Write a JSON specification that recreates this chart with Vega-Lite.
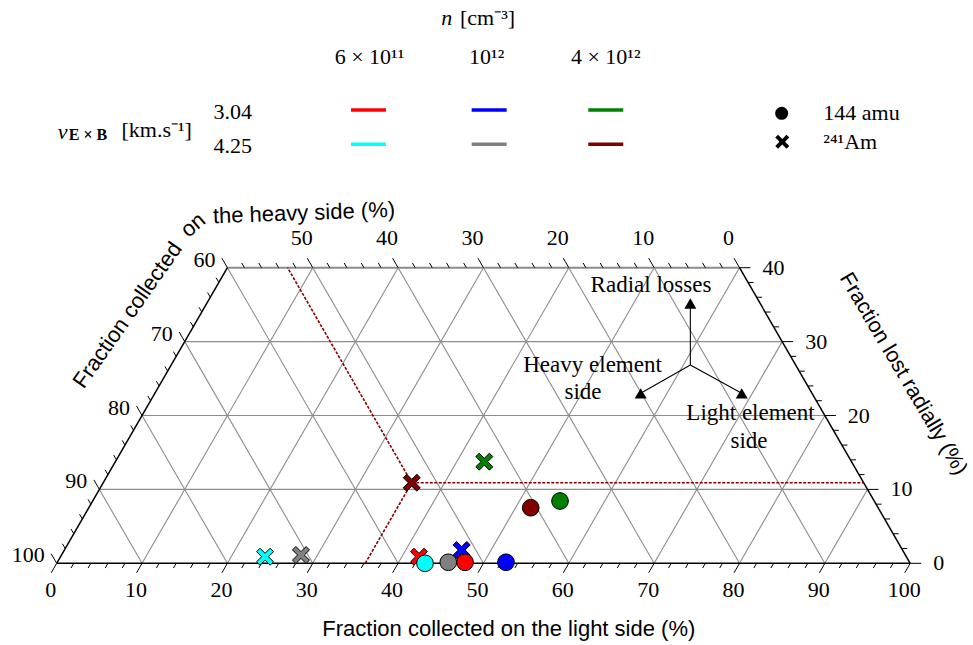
{
 "$schema": "https://vega.github.io/schema/vega-lite/v6.json",
 "width": 973, "height": 645,
 "autosize": {"type": "none"},
 "padding": 0,
 "background": "white",
 "config": {"view": {"stroke": null}},
 "encoding": {
  "x": {"field": "x", "type": "quantitative", "scale": {"domain": [-6.643, 107.357], "nice": false, "zero": false}, "axis": null},
  "y": {"field": "y", "type": "quantitative", "scale": {"domain": [-11.055, 76.225], "nice": false, "zero": false}, "axis": null}
 },
 "datasets": {
  "grid": [
   {"x":5,"y":10,"x2":95,"y2":10},{"x":10,"y":20,"x2":90,"y2":20},{"x":15,"y":30,"x2":85,"y2":30},
   {"x":10,"y":0,"x2":30,"y2":40},{"x":20,"y":0,"x2":40,"y2":40},{"x":30,"y":0,"x2":50,"y2":40},{"x":40,"y":0,"x2":60,"y2":40},{"x":50,"y":0,"x2":70,"y2":40},{"x":60,"y":0,"x2":80,"y2":40},{"x":70,"y":0,"x2":85,"y2":30},{"x":80,"y":0,"x2":90,"y2":20},{"x":90,"y":0,"x2":95,"y2":10},
   {"x":10,"y":0,"x2":5,"y2":10},{"x":20,"y":0,"x2":10,"y2":20},{"x":30,"y":0,"x2":15,"y2":30},{"x":40,"y":0,"x2":20,"y2":40},{"x":50,"y":0,"x2":30,"y2":40},{"x":60,"y":0,"x2":40,"y2":40},{"x":70,"y":0,"x2":50,"y2":40},{"x":80,"y":0,"x2":60,"y2":40},{"x":90,"y":0,"x2":70,"y2":40}
  ],
  "frame": [
   {"edge":"top","x":20,"y":40,"x2":80,"y2":40},
   {"edge":"bottom","x":0,"y":0,"x2":100,"y2":0},
   {"edge":"left","x":0,"y":0,"x2":20,"y2":40},
   {"edge":"right","x":100,"y":0,"x2":80,"y2":40}
  ],
  "guides": [
   {"x":41.6,"y":10.9,"x2":36.15,"y2":0},
   {"x":41.6,"y":10.9,"x2":27.05,"y2":40},
   {"x":41.6,"y":10.9,"x2":94.55,"y2":10.9}
  ],
  "ticks": [
   {"e":"b","x":0,"y":0,"m":1},{"e":"b","x":2,"y":0,"m":0},{"e":"b","x":4,"y":0,"m":0},{"e":"b","x":6,"y":0,"m":0},{"e":"b","x":8,"y":0,"m":0},
   {"e":"b","x":10,"y":0,"m":1},{"e":"b","x":12,"y":0,"m":0},{"e":"b","x":14,"y":0,"m":0},{"e":"b","x":16,"y":0,"m":0},{"e":"b","x":18,"y":0,"m":0},
   {"e":"b","x":20,"y":0,"m":1},{"e":"b","x":22,"y":0,"m":0},{"e":"b","x":24,"y":0,"m":0},{"e":"b","x":26,"y":0,"m":0},{"e":"b","x":28,"y":0,"m":0},
   {"e":"b","x":30,"y":0,"m":1},{"e":"b","x":32,"y":0,"m":0},{"e":"b","x":34,"y":0,"m":0},{"e":"b","x":36,"y":0,"m":0},{"e":"b","x":38,"y":0,"m":0},
   {"e":"b","x":40,"y":0,"m":1},{"e":"b","x":42,"y":0,"m":0},{"e":"b","x":44,"y":0,"m":0},{"e":"b","x":46,"y":0,"m":0},{"e":"b","x":48,"y":0,"m":0},
   {"e":"b","x":50,"y":0,"m":1},{"e":"b","x":52,"y":0,"m":0},{"e":"b","x":54,"y":0,"m":0},{"e":"b","x":56,"y":0,"m":0},{"e":"b","x":58,"y":0,"m":0},
   {"e":"b","x":60,"y":0,"m":1},{"e":"b","x":62,"y":0,"m":0},{"e":"b","x":64,"y":0,"m":0},{"e":"b","x":66,"y":0,"m":0},{"e":"b","x":68,"y":0,"m":0},
   {"e":"b","x":70,"y":0,"m":1},{"e":"b","x":72,"y":0,"m":0},{"e":"b","x":74,"y":0,"m":0},{"e":"b","x":76,"y":0,"m":0},{"e":"b","x":78,"y":0,"m":0},
   {"e":"b","x":80,"y":0,"m":1},{"e":"b","x":82,"y":0,"m":0},{"e":"b","x":84,"y":0,"m":0},{"e":"b","x":86,"y":0,"m":0},{"e":"b","x":88,"y":0,"m":0},
   {"e":"b","x":90,"y":0,"m":1},{"e":"b","x":92,"y":0,"m":0},{"e":"b","x":94,"y":0,"m":0},{"e":"b","x":96,"y":0,"m":0},{"e":"b","x":98,"y":0,"m":0},
   {"e":"b","x":100,"y":0,"m":1},
   {"e":"l","x":0,"y":0,"m":1},{"e":"l","x":1,"y":2,"m":0},{"e":"l","x":2,"y":4,"m":0},{"e":"l","x":3,"y":6,"m":0},{"e":"l","x":4,"y":8,"m":0},
   {"e":"l","x":5,"y":10,"m":1},{"e":"l","x":6,"y":12,"m":0},{"e":"l","x":7,"y":14,"m":0},{"e":"l","x":8,"y":16,"m":0},{"e":"l","x":9,"y":18,"m":0},
   {"e":"l","x":10,"y":20,"m":1},{"e":"l","x":11,"y":22,"m":0},{"e":"l","x":12,"y":24,"m":0},{"e":"l","x":13,"y":26,"m":0},{"e":"l","x":14,"y":28,"m":0},
   {"e":"l","x":15,"y":30,"m":1},{"e":"l","x":16,"y":32,"m":0},{"e":"l","x":17,"y":34,"m":0},{"e":"l","x":18,"y":36,"m":0},{"e":"l","x":19,"y":38,"m":0},
   {"e":"l","x":20,"y":40,"m":1},
   {"e":"t","x":22,"y":40,"m":0},{"e":"t","x":24,"y":40,"m":0},{"e":"t","x":26,"y":40,"m":0},{"e":"t","x":28,"y":40,"m":0},
   {"e":"t","x":30,"y":40,"m":1},{"e":"t","x":32,"y":40,"m":0},{"e":"t","x":34,"y":40,"m":0},{"e":"t","x":36,"y":40,"m":0},{"e":"t","x":38,"y":40,"m":0},
   {"e":"t","x":40,"y":40,"m":1},{"e":"t","x":42,"y":40,"m":0},{"e":"t","x":44,"y":40,"m":0},{"e":"t","x":46,"y":40,"m":0},{"e":"t","x":48,"y":40,"m":0},
   {"e":"t","x":50,"y":40,"m":1},{"e":"t","x":52,"y":40,"m":0},{"e":"t","x":54,"y":40,"m":0},{"e":"t","x":56,"y":40,"m":0},{"e":"t","x":58,"y":40,"m":0},
   {"e":"t","x":60,"y":40,"m":1},{"e":"t","x":62,"y":40,"m":0},{"e":"t","x":64,"y":40,"m":0},{"e":"t","x":66,"y":40,"m":0},{"e":"t","x":68,"y":40,"m":0},
   {"e":"t","x":70,"y":40,"m":1},{"e":"t","x":72,"y":40,"m":0},{"e":"t","x":74,"y":40,"m":0},{"e":"t","x":76,"y":40,"m":0},{"e":"t","x":78,"y":40,"m":0},
   {"e":"t","x":80,"y":40,"m":1},
   {"e":"r","x":100,"y":0,"m":1},{"e":"r","x":99,"y":2,"m":0},{"e":"r","x":98,"y":4,"m":0},{"e":"r","x":97,"y":6,"m":0},{"e":"r","x":96,"y":8,"m":0},
   {"e":"r","x":95,"y":10,"m":1},{"e":"r","x":94,"y":12,"m":0},{"e":"r","x":93,"y":14,"m":0},{"e":"r","x":92,"y":16,"m":0},{"e":"r","x":91,"y":18,"m":0},
   {"e":"r","x":90,"y":20,"m":1},{"e":"r","x":89,"y":22,"m":0},{"e":"r","x":88,"y":24,"m":0},{"e":"r","x":87,"y":26,"m":0},{"e":"r","x":86,"y":28,"m":0},
   {"e":"r","x":85,"y":30,"m":1},{"e":"r","x":84,"y":32,"m":0},{"e":"r","x":83,"y":34,"m":0},{"e":"r","x":82,"y":36,"m":0},{"e":"r","x":81,"y":38,"m":0},
   {"e":"r","x":80,"y":40,"m":1}
  ],
  "points": [
   {"series":"n=6×10¹¹, v=3.04","element":"241Am","x":42.45,"y":0.89},
   {"series":"n=10¹², v=3.04","element":"241Am","x":47.45,"y":1.8},
   {"series":"n=4×10¹², v=3.04","element":"241Am","x":50.1,"y":13.75},
   {"series":"n=6×10¹¹, v=4.25","element":"241Am","x":24.41,"y":0.89},
   {"series":"n=10¹², v=4.25","element":"241Am","x":28.62,"y":1.12},
   {"series":"n=4×10¹², v=4.25","element":"241Am","x":41.6,"y":10.9},
   {"series":"n=6×10¹¹, v=3.04","element":"144 amu","x":47.84,"y":0.14},
   {"series":"n=10¹², v=3.04","element":"144 amu","x":52.64,"y":0.14},
   {"series":"n=4×10¹², v=3.04","element":"144 amu","x":58.97,"y":8.43},
   {"series":"n=6×10¹¹, v=4.25","element":"144 amu","x":43.15,"y":0.0},
   {"series":"n=10¹², v=4.25","element":"144 amu","x":45.88,"y":0.14},
   {"series":"n=4×10¹², v=4.25","element":"144 amu","x":55.54,"y":7.52}
  ],
  "arrows": [
   {"x":74.24,"y":26.83,"x2":74.24,"y2":35.16},
   {"x":74.24,"y":26.83,"x2":68.42,"y2":23.0},
   {"x":74.24,"y":26.83,"x2":80.26,"y2":23.0}
  ],
  "legend_lines": [
   {"series":"n=6×10¹¹, v=3.04","x":34.48,"x2":38.58,"y":61.35},
   {"series":"n=10¹², v=3.04","x":48.62,"x2":52.72,"y":61.35},
   {"series":"n=4×10¹², v=3.04","x":62.28,"x2":66.38,"y":61.35},
   {"series":"n=6×10¹¹, v=4.25","x":34.48,"x2":38.58,"y":56.7},
   {"series":"n=10¹², v=4.25","x":48.62,"x2":52.72,"y":56.7},
   {"series":"n=4×10¹², v=4.25","x":62.28,"x2":66.38,"y":56.7}
  ],
  "legend_marks": [
   {"element":"144 amu","x":84.94,"y":60.89},
   {"element":"241Am","x":85.01,"y":57.05}
  ],
  "ticklabels": [
   {"g":"b","text":"0","x":0,"y":0},{"g":"b","text":"10","x":10,"y":0},{"g":"b","text":"20","x":20,"y":0},{"g":"b","text":"30","x":30,"y":0},{"g":"b","text":"40","x":40,"y":0},{"g":"b","text":"50","x":50,"y":0},{"g":"b","text":"60","x":60,"y":0},{"g":"b","text":"70","x":70,"y":0},{"g":"b","text":"80","x":80,"y":0},{"g":"b","text":"90","x":90,"y":0},{"g":"b","text":"100","x":100,"y":0},
   {"g":"l","text":"100","x":0,"y":0},{"g":"l","text":"90","x":5,"y":10},{"g":"l","text":"80","x":10,"y":20},{"g":"l","text":"70","x":15,"y":30},{"g":"l","text":"60","x":20,"y":40},
   {"g":"t","text":"50","x":30,"y":40},{"g":"t","text":"40","x":40,"y":40},{"g":"t","text":"30","x":50,"y":40},{"g":"t","text":"20","x":60,"y":40},{"g":"t","text":"10","x":70,"y":40},{"g":"t","text":"0","x":80,"y":40},
   {"g":"r","text":"0","x":100,"y":0},{"g":"r","text":"10","x":95,"y":10},{"g":"r","text":"20","x":90,"y":20},{"g":"r","text":"30","x":85,"y":30},{"g":"r","text":"40","x":80,"y":40}
  ],
  "titles": [
   {"id":"bottom","text":"Fraction collected on the light side (%)","x":52.97,"y":-8.89},
   {"id":"right","text":"Fraction lost radially (%)","x":99.15,"y":25.6},
   {"id":"left1","text":"Fraction collected","x":8.3,"y":33.6},
   {"id":"left2","text":"on","x":15.97,"y":45.78},
   {"id":"left3","text":"the heavy side (%)","x":28.97,"y":47.4}
  ],
  "notes": [
   {"text":"Radial losses","x":69.63,"y":37.68},
   {"text":"Heavy element","x":62.78,"y":26.83},
   {"text":"side","x":61.66,"y":23.18},
   {"text":"Light element","x":81.29,"y":20.3},
   {"text":"side","x":81.11,"y":16.59}
  ],
  "legend_text": [
   {"g":"i","text":"n","x":45.69,"y":73.78},
   {"g":"l","text":"[cm⁻³]","x":47.25,"y":73.78},
   {"g":"c","text":"6 × 10¹¹","x":36.65,"y":68.55},
   {"g":"c","text":"10¹²","x":50.38,"y":68.55},
   {"g":"c","text":"4 × 10¹²","x":64.32,"y":68.55},
   {"g":"c","text":"3.04","x":20.63,"y":61.11},
   {"g":"c","text":"4.25","x":20.63,"y":56.51},
   {"g":"i","text":"v","x":0.69,"y":58.4},
   {"g":"b","text":"E × B","x":3.67,"y":57.95},
   {"g":"c","text":"[km.s⁻¹]","x":11.72,"y":58.63},
   {"g":"l","text":"144 amu","x":89.82,"y":60.93},
   {"g":"l","text":"²⁴¹Am","x":89.82,"y":57.05}
  ]
 },
 "layer": [
  {"data":{"name":"grid"},"mark":{"type":"rule","color":"#8c8c8c","strokeWidth":1.1},"encoding":{"x2":{"field":"x2"},"y2":{"field":"y2"}}},
  {"data":{"name":"frame"},"transform":[{"filter":"datum.edge == 'top'"}],"mark":{"type":"rule","color":"#8c8c8c","strokeWidth":2},"encoding":{"x2":{"field":"x2"},"y2":{"field":"y2"}}},
  {"data":{"name":"frame"},"transform":[{"filter":"datum.edge != 'top'"}],"mark":{"type":"rule","color":"black","strokeWidth":1.5},"encoding":{"x2":{"field":"x2"},"y2":{"field":"y2"}}},
  {"data":{"name":"guides"},"mark":{"type":"rule","color":"#8b0000","strokeWidth":1.6,"strokeDash":[3,1.5]},"encoding":{"x2":{"field":"x2"},"y2":{"field":"y2"}}},
  {"data":{"name":"ticks"},"mark":{"type":"point","filled":false,"stroke":"black","strokeWidth":1,"opacity":1},
   "encoding":{
    "shape":{"field":"e","type":"nominal","scale":{"domain":["b","l","t","r"],"range":["M0,0L-0.5,0.866","M0,0L-0.5,-0.866","M0,0L-0.5,-0.866","M0,0L1,0"]},"legend":null},
    "size":{"field":"m","type":"quantitative","scale":{"domain":[0,1],"range":[121,484],"zero":false},"legend":null}
   }},
  {"data":{"name":"arrows"},"mark":{"type":"rule","color":"black","strokeWidth":1.1},"encoding":{"x2":{"field":"x2"},"y2":{"field":"y2"}}},
  {"data":{"name":"arrows"},"mark":{"type":"point","shape":"triangle-up","size":144,"filled":true,"color":"black","opacity":1},
   "encoding":{"x":{"field":"x2","type":"quantitative"},"y":{"field":"y2","type":"quantitative"}}},
  {"data":{"name":"points"},"transform":[{"filter":"datum.element == '241Am'"}],
   "mark":{"type":"point","shape":"M-1,-0.6L-0.6,-1L0,-0.4L0.6,-1L1,-0.6L0.4,0L1,0.6L0.6,1L0,0.4L-0.6,1L-1,0.6L-0.4,0Z","size":289,"filled":true,"stroke":"black","strokeWidth":1,"opacity":1},
   "encoding":{"color":{"field":"series","type":"nominal","scale":{"domain":["n=6×10¹¹, v=3.04","n=10¹², v=3.04","n=4×10¹², v=3.04","n=6×10¹¹, v=4.25","n=10¹², v=4.25","n=4×10¹², v=4.25"],"range":["#ff0000","#0000ff","#008000","#00ffff","#808080","#800000"]},"legend":null}}},
  {"data":{"name":"points"},"transform":[{"filter":"datum.element == '144 amu'"}],
   "mark":{"type":"point","shape":"circle","size":279,"filled":true,"stroke":"black","strokeWidth":1,"opacity":1},
   "encoding":{"color":{"field":"series","type":"nominal","scale":{"domain":["n=6×10¹¹, v=3.04","n=10¹², v=3.04","n=4×10¹², v=3.04","n=6×10¹¹, v=4.25","n=10¹², v=4.25","n=4×10¹², v=4.25"],"range":["#ff0000","#0000ff","#008000","#00ffff","#808080","#800000"]},"legend":null}}},
  {"data":{"name":"legend_lines"},"mark":{"type":"rule","strokeWidth":3.5},
   "encoding":{"x2":{"field":"x2"},"color":{"field":"series","type":"nominal","scale":{"domain":["n=6×10¹¹, v=3.04","n=10¹², v=3.04","n=4×10¹², v=3.04","n=6×10¹¹, v=4.25","n=10¹², v=4.25","n=4×10¹², v=4.25"],"range":["#ff0000","#0000ff","#008000","#00ffff","#808080","#800000"]},"legend":null}}},
  {"data":{"name":"legend_marks"},"transform":[{"filter":"datum.element == '144 amu'"}],"mark":{"type":"point","shape":"circle","size":169,"filled":true,"color":"black","opacity":1}},
  {"data":{"name":"legend_marks"},"transform":[{"filter":"datum.element == '241Am'"}],"mark":{"type":"point","shape":"M-1,-0.6L-0.6,-1L0,-0.4L0.6,-1L1,-0.6L0.4,0L1,0.6L0.6,1L0,0.4L-0.6,1L-1,0.6L-0.4,0Z","size":196,"filled":true,"color":"black","opacity":1}},
  {"data":{"name":"ticklabels"},"transform":[{"filter":"datum.g == 'b'"}],"mark":{"type":"text","font":"Liberation Serif","fontSize":22,"align":"center","baseline":"middle","dx":-6,"dy":27,"color":"black"},"encoding":{"text":{"field":"text"}}},
  {"data":{"name":"ticklabels"},"transform":[{"filter":"datum.g == 'l'"}],"mark":{"type":"text","font":"Liberation Serif","fontSize":22,"align":"right","baseline":"middle","dx":-12,"dy":-8,"color":"black"},"encoding":{"text":{"field":"text"}}},
  {"data":{"name":"ticklabels"},"transform":[{"filter":"datum.g == 't'"}],"mark":{"type":"text","font":"Liberation Serif","fontSize":22,"align":"center","baseline":"middle","dx":-11,"dy":-29.5,"color":"black"},"encoding":{"text":{"field":"text"}}},
  {"data":{"name":"ticklabels"},"transform":[{"filter":"datum.g == 'r'"}],"mark":{"type":"text","font":"Liberation Serif","fontSize":22,"align":"left","baseline":"middle","dx":23,"dy":0,"color":"black"},"encoding":{"text":{"field":"text"}}},
  {"data":{"name":"titles"},"transform":[{"filter":"datum.id == 'bottom'"}],"mark":{"type":"text","font":"Liberation Sans","fontSize":22,"align":"center","baseline":"middle","color":"black"},"encoding":{"text":{"field":"text"}}},
  {"data":{"name":"titles"},"transform":[{"filter":"datum.id == 'right'"}],"mark":{"type":"text","font":"Liberation Sans","fontSize":21.5,"align":"center","baseline":"middle","angle":59.5,"color":"black"},"encoding":{"text":{"field":"text"}}},
  {"data":{"name":"titles"},"transform":[{"filter":"datum.id == 'left1'"}],"mark":{"type":"text","font":"Liberation Sans","fontSize":22,"align":"center","baseline":"middle","angle":305,"color":"black"},"encoding":{"text":{"field":"text"}}},
  {"data":{"name":"titles"},"transform":[{"filter":"datum.id == 'left2'"}],"mark":{"type":"text","font":"Liberation Sans","fontSize":22,"align":"center","baseline":"middle","angle":320,"color":"black"},"encoding":{"text":{"field":"text"}}},
  {"data":{"name":"titles"},"transform":[{"filter":"datum.id == 'left3'"}],"mark":{"type":"text","font":"Liberation Sans","fontSize":22,"align":"center","baseline":"middle","angle":358,"color":"black"},"encoding":{"text":{"field":"text"}}},
  {"data":{"name":"notes"},"mark":{"type":"text","font":"Liberation Serif","fontSize":23,"align":"center","baseline":"middle","color":"black"},"encoding":{"text":{"field":"text"}}},
  {"data":{"name":"legend_text"},"transform":[{"filter":"datum.g == 'c'"}],"mark":{"type":"text","font":"Liberation Serif","fontSize":22,"align":"center","baseline":"middle","color":"black"},"encoding":{"text":{"field":"text"}}},
  {"data":{"name":"legend_text"},"transform":[{"filter":"datum.g == 'l'"}],"mark":{"type":"text","font":"Liberation Serif","fontSize":22,"align":"left","baseline":"middle","color":"black"},"encoding":{"text":{"field":"text"}}},
  {"data":{"name":"legend_text"},"transform":[{"filter":"datum.g == 'i'"}],"mark":{"type":"text","font":"Liberation Serif","fontSize":22,"fontStyle":"italic","align":"center","baseline":"middle","color":"black"},"encoding":{"text":{"field":"text"}}},
  {"data":{"name":"legend_text"},"transform":[{"filter":"datum.g == 'b'"}],"mark":{"type":"text","font":"Liberation Serif","fontSize":16,"fontWeight":"bold","align":"center","baseline":"middle","color":"black"},"encoding":{"text":{"field":"text"}}}
 ]
}
